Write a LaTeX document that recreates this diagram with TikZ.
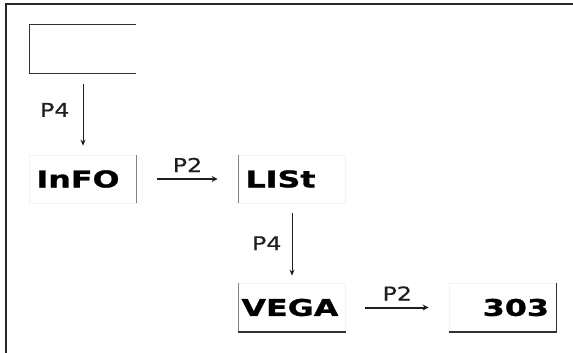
\documentclass[tikz,border=0pt]{standalone}
\usepackage{fontspec}
\newfontfamily\boxfont{DejaVu Sans}[FakeStretch=1.38, FakeBold=1.2]
\newfontfamily\labfont{DejaVu Sans}[FakeStretch=1.25, FakeBold=0.6]
\usetikzlibrary{arrows.meta}

\tikzset{every picture/.style={line width=0.75pt}}
\tikzset{
	wordbox/.style={draw={rgb, 255:red, 242; green, 242; blue, 242}, line width=0.6pt, minimum height=48, inner ysep=0, inner xsep=7, text width=93, font=\boxfont\bfseries\fontsize{23}{23}\selectfont},
	plabel/.style={inner sep=0, font=\labfont\fontsize{19}{19}\selectfont, text={rgb, 255:red, 30; green, 30; blue, 30}},
	darkline/.style={color={rgb, 255:red, 50; green, 50; blue, 50}, line width=1.5pt},
	greyline/.style={color={rgb, 255:red, 130; green, 130; blue, 130}, line width=1.3pt},
	downarrow/.style={-{Stealth[length=6pt,width=5pt]}, color={rgb, 255:red, 30; green, 30; blue, 30}, line width=1pt},
	rightarrow/.style={-{Stealth[length=6pt,width=6pt]}, color={rgb, 255:red, 30; green, 30; blue, 30}, line width=2pt}}

\begin{document}
\begin{tikzpicture}[x=1pt,y=1pt,yscale=-1,xscale=1]
	\path[use as bounding box] (0,0) rectangle (573,353);

	%Shape: Frame
	\draw [color={rgb, 255:red, 40; green, 40; blue, 40}, line width=2pt] (573,4) -- (6,4) -- (6,353) ;

	%Shape: open box
	\node (blank) [minimum width=106, minimum height=48] at (83,49) {};
	\draw [darkline] (blank.north east) -- (blank.north west) -- (blank.south west) -- (blank.south east) ;

	% Text Node
	\node (info) [wordbox, align=left] at (83,179) {InFO};
	% Text Node
	\node (list) [wordbox, align=left] at (292,179) {LISt};
	% Text Node
	\node (vega) [wordbox, inner xsep=3, text width=101, align=left] at (292,307.5) {VEGA};
	% Text Node
	\node (num) [wordbox, align=right] at (502.5,307.5) {303};

	%Shape: box sides
	\draw [greyline] (info.north east) -- (info.south east) ;
	\draw [greyline] (list.north west) -- (list.south west) ;
	\draw [greyline] (vega.north west) -- (vega.south west) ;
	\draw [darkline] (vega.south west) -- (vega.south east) ;
	\draw [darkline] (num.south west) -- (num.south east) -- (num.north east) ;

	%Arrows
	\draw [downarrow, shorten <=11pt, shorten >=9pt] (blank.south) -- node[pos=0.45, left=13pt, plabel] (pfour) {P4} (info.north) ;
	\draw [rightarrow, shorten <=20.5pt, shorten >=20.5pt] (info.east) -- node[above=6pt, plabel] (ptwo) {P2} (list.west) ;
	\draw [downarrow, shorten <=10pt, shorten >=7.5pt] (list.south) -- node[left=10pt, plabel] (pfourb) {P4} (vega.north) ;
	\draw [rightarrow, shorten <=19.5pt, shorten >=20pt] (vega.east) -- node[above=6pt, plabel] (ptwob) {P2} (num.west) ;

\end{tikzpicture}
\end{document}
